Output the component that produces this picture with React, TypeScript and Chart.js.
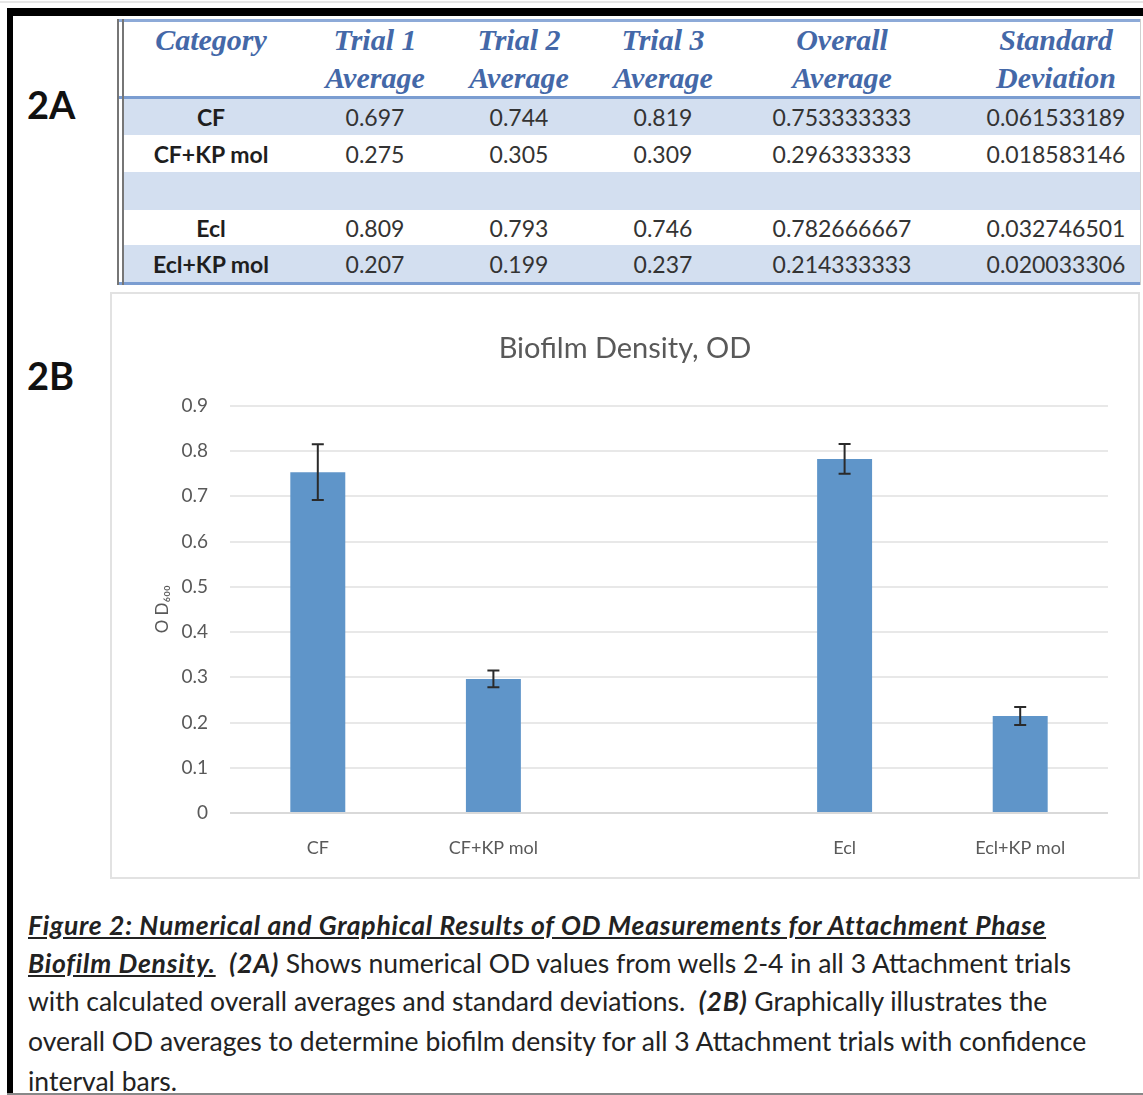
import React, { useEffect, useRef } from "react";
import { Chart, registerables } from "chart.js";

Chart.register(...registerables);

// ---- Data ----
const categories = ["CF", "CF+KP mol", "", "Ecl", "Ecl+KP mol"];
const trial1Average = [0.697, 0.275, null, 0.809, 0.207];
const trial2Average = [0.744, 0.305, null, 0.793, 0.199];
const trial3Average = [0.819, 0.309, null, 0.746, 0.237];
const overallAverage = [0.753333333, 0.296333333, null, 0.782666667, 0.214333333];
const standardDeviation = [0.061533189, 0.018583146, null, 0.032746501, 0.020033306];
const headerLines = [
  ["Category", ""],
  ["Trial 1", "Average"],
  ["Trial 2", "Average"],
  ["Trial 3", "Average"],
  ["Overall", "Average"],
  ["Standard", "Deviation"],
];
const yMin = 0;
const yMax = 0.9;
const yStep = 0.1;
const chartTitle = "Biofilm Density, OD";
const yAxisTitle = "O D\u2086\u2080\u2080";
const captionLines = [
  [{ t: "Figure 2: Numerical and Graphical Results of OD Measurements for Attachment Phase", s: "bu" }],
  [
    { t: "Biofilm Density.", s: "bu" },
    { t: "  ", s: "" },
    { t: "(2A)", s: "b" },
    { t: " Shows numerical OD values from wells 2-4 in all 3 Attachment trials", s: "" },
  ],
  [
    { t: "with calculated overall averages and standard deviations.  ", s: "" },
    { t: "(2B)", s: "b" },
    { t: " Graphically illustrates the", s: "" },
  ],
  [{ t: "overall OD averages to determine biofilm density for all 3 Attachment trials with confidence", s: "" }],
  [{ t: "interval bars.", s: "" }],
];

const SANS = "Lato, 'Open Sans', sans-serif";
const SERIF = "'Liberation Serif', 'DejaVu Serif', serif";

const errorBarPlugin = {
  id: "errorBars",
  afterDatasetsDraw(chart: any) {
    const { ctx } = chart;
    const x = chart.scales.x;
    const y = chart.scales.y;
    ctx.save();
    ctx.strokeStyle = "#2a2a2a";
    ctx.lineWidth = 2;
    overallAverage.forEach((v, i) => {
      const sd = standardDeviation[i];
      if (v == null || sd == null) return;
      const px = x.getPixelForValue(i);
      const top = y.getPixelForValue(v + sd);
      const bot = y.getPixelForValue(v - sd);
      ctx.beginPath();
      ctx.moveTo(px, top);
      ctx.lineTo(px, bot);
      ctx.moveTo(px - 6, top);
      ctx.lineTo(px + 6, top);
      ctx.moveTo(px - 6, bot);
      ctx.lineTo(px + 6, bot);
      ctx.stroke();
    });
    ctx.restore();
  },
};

function BarChart() {
  const ref = useRef<HTMLCanvasElement | null>(null);
  useEffect(() => {
    if (!ref.current) return;
    const chart = new Chart(ref.current, {
      type: "bar",
      data: {
        labels: categories,
        datasets: [
          {
            data: overallAverage as any,
            backgroundColor: "#5f95c9",
            borderWidth: 0,
            barPercentage: 0.313,
            categoryPercentage: 1,
          },
        ],
      },
      options: {
        responsive: false,
        animation: false,
        layout: { padding: { left: 30, right: 30, top: 0, bottom: 18 } },
        plugins: {
          legend: { display: false },
          tooltip: { enabled: false },
          title: {
            display: true,
            text: chartTitle,
            color: "#595959",
            font: { family: SANS, size: 29, weight: "normal" as any },
            padding: { top: 37, bottom: 40 },
          },
        },
        scales: {
          x: {
            grid: { display: false, drawTicks: false },
            border: { display: false },
            ticks: {
              color: "#595959",
              font: { family: SANS, size: 18 },
              padding: 24,
              maxRotation: 0,
              autoSkip: false,
            },
            afterFit: (s: any) => {
              s.height = 46;
            },
          },
          y: {
            min: yMin,
            max: yMax,
            ticks: {
              stepSize: yStep,
              padding: 22,
              color: "#595959",
              font: { family: SANS, size: 19 },
              callback: (v: any) => (Number(v) === 0 ? "0" : Number(v).toFixed(1)),
            },
            grid: {
              color: (c: any) => (c.tick && c.tick.value === 0 ? "#d9d9d9" : "#e8e8e8"),
              lineWidth: 2,
              drawTicks: false,
            },
            border: { display: false },
            title: {
              display: true,
              text: yAxisTitle,
              color: "#595959",
              font: { family: SANS, size: 17 },
              padding: { top: 10, bottom: 0 },
            },
            afterFit: (s: any) => {
              s.width = 88;
            },
          },
        },
      },
      plugins: [errorBarPlugin],
    });
    return () => chart.destroy();
  }, []);
  return <canvas ref={ref} width={1026} height={583} style={{ display: "block" }} />;
}

const colCenters = [211, 375, 519, 663, 842, 1056];
const rowTops = [99, 135, 172, 210, 245];
const rowBottoms = [135, 172, 210, 245, 282];

function fmt(v: number | null, d: number) {
  return v == null ? "" : v.toFixed(d);
}

export default function App() {
  const abs = (style: any) => ({ position: "absolute" as const, ...style });
  const cell = (cx: number, cy: number, text: string, style: any, key: string) => (
    <div
      key={key}
      style={abs({
        left: cx - 100,
        width: 200,
        top: cy - 20,
        height: 40,
        lineHeight: "40px",
        textAlign: "center",
        whiteSpace: "nowrap",
        ...style,
      })}
    >
      {text}
    </div>
  );

  const rowValues = categories.map((c, i) => [
    c,
    fmt(trial1Average[i], 3),
    fmt(trial2Average[i], 3),
    fmt(trial3Average[i], 3),
    fmt(overallAverage[i], 9),
    fmt(standardDeviation[i], 9),
  ]);

  return (
    <div
      style={{
        position: "absolute",
        left: 0,
        top: 0,
        width: 1143,
        height: 1095,
        background: "#fff",
        overflow: "hidden",
      }}
    >
      {/* faint top line */}
      <div style={abs({ left: 0, top: 1, width: 1143, height: 2, background: "#e6e6e6" })} />
      {/* black frame */}
      <div style={abs({ left: 7, top: 8, width: 1136, height: 8, background: "#000" })} />
      <div style={abs({ left: 7, top: 8, width: 6, height: 1087, background: "#000" })} />
      <div style={abs({ left: 7, top: 1093, width: 1136, height: 2, background: "#888" })} />

      {/* labels */}
      <div style={abs({ left: 27, top: 82, fontFamily: SANS, fontWeight: 700, fontSize: 38, color: "#111", lineHeight: "44px" })}>2A</div>
      <div style={abs({ left: 27, top: 353, fontFamily: SANS, fontWeight: 700, fontSize: 38, color: "#111", lineHeight: "44px" })}>2B</div>

      {/* table */}
      <div style={abs({ left: 117, top: 19, width: 1023, height: 266, borderRight: "1px solid #cfcfcf" })} />
      {rowTops.map((t, i) =>
        i % 2 === 0 ? (
          <div key={"f" + i} style={abs({ left: 123, top: t, width: 1017, height: rowBottoms[i] - t, background: "#d3dff0" })} />
        ) : null
      )}
      <div style={abs({ left: 117, top: 19, width: 1023, height: 3, background: "#8daad8" })} />
      <div style={abs({ left: 117, top: 96, width: 1023, height: 3, background: "#7b9dd1" })} />
      <div style={abs({ left: 117, top: 282, width: 1023, height: 3, background: "#7b9dd1" })} />
      <div style={abs({ left: 117, top: 19, width: 7, height: 266, borderLeft: "7px double #767676", boxSizing: "border-box" })} />

      {headerLines.map((h, ci) => [
        cell(colCenters[ci], 40, h[0], { fontFamily: SERIF, fontStyle: "italic", fontWeight: 700, fontSize: 30, color: "#4468a8" }, "h1" + ci),
        h[1] ? cell(colCenters[ci], 78, h[1], { fontFamily: SERIF, fontStyle: "italic", fontWeight: 700, fontSize: 30, color: "#4468a8" }, "h2" + ci) : null,
      ])}
      {rowValues.map((r, ri) =>
        r.map((txt, ci) =>
          cell(
            colCenters[ci],
            (rowTops[ri] + rowBottoms[ri]) / 2,
            txt,
            ci === 0
              ? { fontFamily: SANS, fontWeight: 700, fontSize: 23, color: "#1e1e1e" }
              : { fontFamily: SANS, fontSize: 23, color: "#333" },
            "c" + ri + "_" + ci
          )
        )
      )}

      {/* chart box */}
      <div style={abs({ left: 110, top: 292, width: 1030, height: 587, border: "2px solid #e2e2e2", boxSizing: "border-box" })} />
      <div style={abs({ left: 112, top: 294 })}>
        <BarChart />
      </div>

      {/* caption */}
      {captionLines.map((line, li) => (
        <div
          key={"cap" + li}
          style={abs({
            left: 28,
            top: [905, 943, 981, 1021, 1061][li],
            height: 40,
            lineHeight: "40px",
            fontFamily: SANS,
            fontSize: 26.5,
            color: "#222",
            whiteSpace: "pre",
          })}
        >
          {line.map((seg, si) => (
            <span
              key={si}
              style={{
                fontWeight: seg.s.includes("b") ? 700 : 400,
                fontStyle: seg.s.includes("b") ? "italic" : "normal",
                textDecoration: seg.s.includes("u") ? "underline" : "none",
                letterSpacing: seg.s.includes("b") ? "0.75px" : "0px",
              }}
            >
              {seg.t}
            </span>
          ))}
        </div>
      ))}
    </div>
  );
}
